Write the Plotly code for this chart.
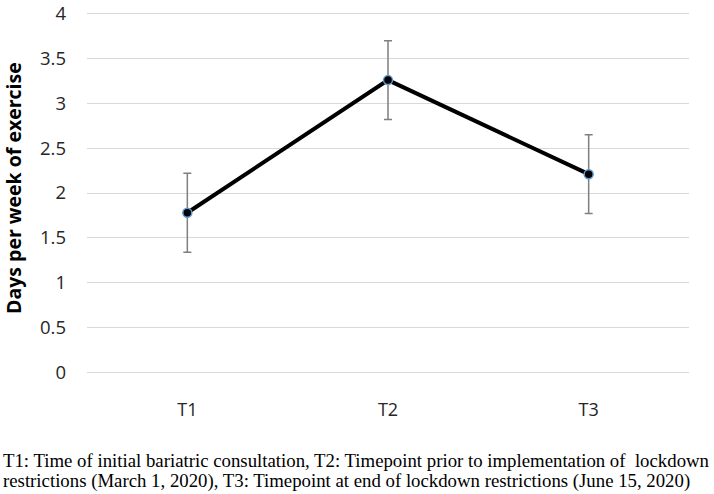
import plotly.graph_objects as go

categories = ["T1", "T2", "T3"]
means = [1.78, 3.26, 2.21]
errors = [0.44, 0.44, 0.44]
y_ticks = [0, 0.5, 1, 1.5, 2, 2.5, 3, 3.5, 4]
y_tick_labels = ["0", "0.5", "1", "1.5", "2", "2.5", "3", "3.5", "4"]
y_title = "Days per week of exercise"
caption_lines = [
    "T1: Time of initial bariatric consultation, T2: Timepoint prior to implementation of&nbsp; lockdown",
    "restrictions (March 1, 2020), T3: Timepoint at end of lockdown restrictions (June 15, 2020)",
]

W, H = 714, 494
PLOT_L, PLOT_R, PLOT_T, PLOT_B = 87, 689, 12, 374
pw, ph = PLOT_R - PLOT_L, PLOT_B - PLOT_T

def px_x(x):
    return (x - PLOT_L) / pw

def px_y(y):
    return (PLOT_B - y) / ph

fig = go.Figure()
fig.add_trace(go.Scatter(
    x=categories, y=means, mode="lines+markers",
    line=dict(color="black", width=4),
    marker=dict(size=9, color="black", line=dict(color="#5B9BD5", width=1.5)),
    error_y=dict(type="data", array=errors, visible=True, color="#7f7f7f", thickness=1.5, width=4),
    showlegend=False,
))

fig.update_layout(
    width=W, height=H,
    margin=dict(l=PLOT_L, r=W - PLOT_R, t=PLOT_T, b=H - PLOT_B, pad=0),
    paper_bgcolor="white", plot_bgcolor="white",
    font=dict(family="Open Sans", color="#262626"),
    xaxis=dict(
        type="category", range=[-0.5, 2.5], showgrid=False, zeroline=False,
        showline=False, ticks="", automargin=False,
        tickfont=dict(size=18, family="Open Sans", color="#262626"),
        ticklabelstandoff=23,
    ),
    yaxis=dict(
        range=[-0.02, 4.02], tickvals=y_ticks, ticktext=y_tick_labels,
        showgrid=True, gridcolor="#d9d9d9", gridwidth=1,
        zeroline=False, showline=False, ticks="", automargin=False,
        tickfont=dict(size=18.5, family="Open Sans", color="#262626"),
        ticklabelstandoff=20, ticklabeloverflow="allow",
    ),
    annotations=[
        dict(text="<b>" + y_title + "</b>", xref="paper", yref="paper", x=px_x(13), y=px_y(188),
             xanchor="center", yanchor="middle", textangle=-90, showarrow=False,
             font=dict(size=19.5, family="Open Sans", color="black")),
        dict(text=caption_lines[0], xref="paper", yref="paper", x=px_x(1), y=px_y(460),
             xanchor="left", yanchor="middle", align="left", showarrow=False,
             font=dict(family="Liberation Serif", size=18.8, color="black")),
        dict(text=caption_lines[1], xref="paper", yref="paper", x=px_x(1), y=px_y(481),
             xanchor="left", yanchor="middle", align="left", showarrow=False,
             font=dict(family="Liberation Serif", size=18.8, color="black")),
    ],
)

fig.write_html("out.html", post_script="document.body.style.margin='0px';",
               config={"displayModeBar": False})
